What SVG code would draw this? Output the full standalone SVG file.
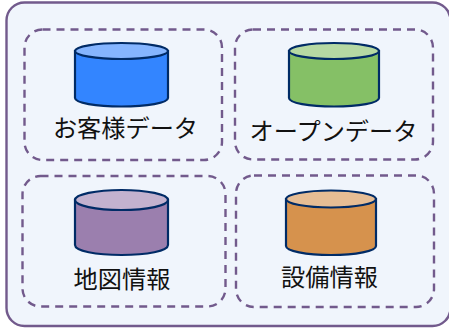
<svg xmlns="http://www.w3.org/2000/svg" width="449" height="329" viewBox="0 0 449 329">
<style>
.outer{fill:#f0f5fc;stroke:#725a8c;stroke-width:2.400}
.group{fill:none;stroke:#725a8c;stroke-width:2.400;stroke-dasharray:8 6}
.body{stroke:#002b66;stroke-width:2.200}
.top{stroke:#002b66;stroke-width:2.200}
text{font-family:"Noto Sans CJK JP","Noto Sans",sans-serif;font-size:24.200px;fill:#111;text-anchor:middle}
</style>
<rect width="449" height="329" fill="#fff"/>
<rect id="container" class="outer" x="6.500" y="2.500" width="444" height="323.500" rx="18"/>
<g id="customer">
<rect class="group" x="24.500" y="29.500" width="197.500" height="130.500" rx="18"/>
<path class="body" fill="#3385ff" d="M75 51V98C75 103 96 106.500 121.500 106.500S168 103 168 98V51Z"/>
<ellipse class="top" fill="#85b5ff" cx="121.500" cy="51" rx="46.500" ry="8"/>
<text x="125.500" y="137">お客様データ</text>
</g>
<g id="opendata">
<rect class="group" x="235" y="29.500" width="198" height="130" rx="18"/>
<path class="body" fill="#85c066" d="M289 51V98C289 103 309 106.500 334 106.500S379 103 379 98V51Z"/>
<ellipse class="top" fill="#b6d9a3" cx="334" cy="51" rx="45" ry="8"/>
<text x="333.500" y="139.500">オープンデータ</text>
</g>
<g id="map">
<rect class="group" x="22.500" y="176" width="203" height="130.500" rx="18"/>
<path class="body" fill="#9b7fae" d="M75 200V245C75 251 96 255 121.500 255S168 251 168 245V200Z"/>
<ellipse class="top" fill="#c3b2cf" cx="121.500" cy="200" rx="46.500" ry="10"/>
<text x="122" y="288">地図情報</text>
</g>
<g id="facility">
<rect class="group" x="236" y="175.500" width="198" height="131.500" rx="18"/>
<path class="body" fill="#d6924d" d="M286 199V246C286 251 306 255 331 255S376 251 376 246V199Z"/>
<ellipse class="top" fill="#e6bd94" cx="331" cy="199" rx="45" ry="8.500"/>
<text x="329.500" y="286">設備情報</text>
</g>
</svg>
